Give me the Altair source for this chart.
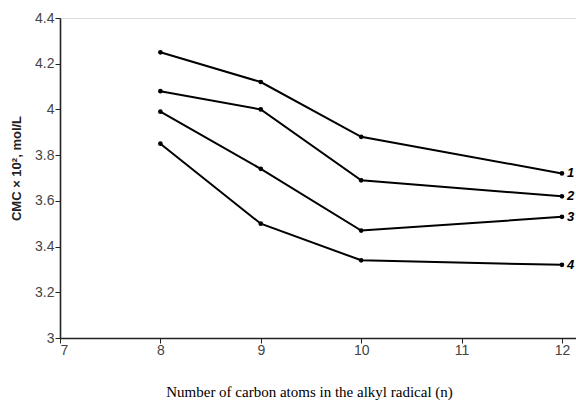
import altair as alt
import pandas as pd

carbons = [8, 9, 10, 12]
series_names = ["1", "2", "3", "4"]
cmc_1 = [4.25, 4.12, 3.88, 3.72]
cmc_2 = [4.08, 4.00, 3.69, 3.62]
cmc_3 = [3.99, 3.74, 3.47, 3.53]
cmc_4 = [3.85, 3.50, 3.34, 3.32]
x_ticks = [7, 8, 9, 10, 11, 12]
y_ticks = [3, 3.2, 3.4, 3.6, 3.8, 4, 4.2, 4.4]

rows = []
for name, vals in zip(series_names, [cmc_1, cmc_2, cmc_3, cmc_4]):
    for c, v in zip(carbons, vals):
        rows.append({"n": c, "cmc": v, "series": name})
df = pd.DataFrame(rows)
last = df[df["n"] == carbons[-1]]

xs = alt.Scale(domain=[7, 12.14], nice=False, zero=False)
ys = alt.Scale(domain=[3, 4.4], nice=False, zero=False)

x_axis = alt.Axis(
    values=x_ticks, format="d", grid=False, tickSize=5, labelPadding=0,
    domainColor="#222", domainWidth=1.6, tickColor="#222", tickWidth=1,
    labelColor="#444", labelFont="Liberation Sans", labelFontSize=14,
    title="Number of carbon atoms in the alkyl radical (n)",
    titleFont="Liberation Serif", titleFontSize=15, titleFontWeight="normal",
    titleColor="#000", titleX=249, titleY=53, titleAnchor="middle",
    titleBaseline="middle", titleAlign="center",
)
y_axis = alt.Axis(
    values=y_ticks, format="~g", grid=False, tickSize=5, labelPadding=1,
    domainColor="#222", domainWidth=1.6, tickColor="#222", tickWidth=1,
    labelColor="#444", labelFont="Liberation Sans", labelFontSize=14,
    title="CMC × 10², mol/L",
    titleFont="Liberation Sans", titleFontSize=13, titleFontWeight="bold",
    titleColor="#222", titleX=-44, titleY=150, titleAngle=-90,
    titleAlign="center", titleBaseline="middle", titleAnchor="middle",
)

base = alt.Chart(df)
lines = base.mark_line(color="#000", strokeWidth=2, clip=False).encode(
    x=alt.X("n:Q", scale=xs, axis=x_axis),
    y=alt.Y("cmc:Q", scale=ys, axis=y_axis),
    detail="series:N",
)
points = base.mark_circle(color="#000", size=22, opacity=1, clip=False).encode(
    x=alt.X("n:Q", scale=xs),
    y=alt.Y("cmc:Q", scale=ys),
)
labels = alt.Chart(last).mark_text(
    align="left", baseline="middle", dx=5, fontStyle="italic", fontWeight="bold",
    font="Liberation Sans", fontSize=13, color="#000", clip=False,
).encode(
    x=alt.X("n:Q", scale=xs),
    y=alt.Y("cmc:Q", scale=ys),
    text="series:N",
)

chart = (lines + points + labels).properties(
    width=516, height=320,
    autosize=alt.AutoSizeParams(type="none"),
    padding={"left": 60, "top": 18, "right": 0, "bottom": 70},
).configure_view(stroke=None).configure(background="white")

chart.save("out.html", embed_options={"renderer": "svg", "actions": False})
